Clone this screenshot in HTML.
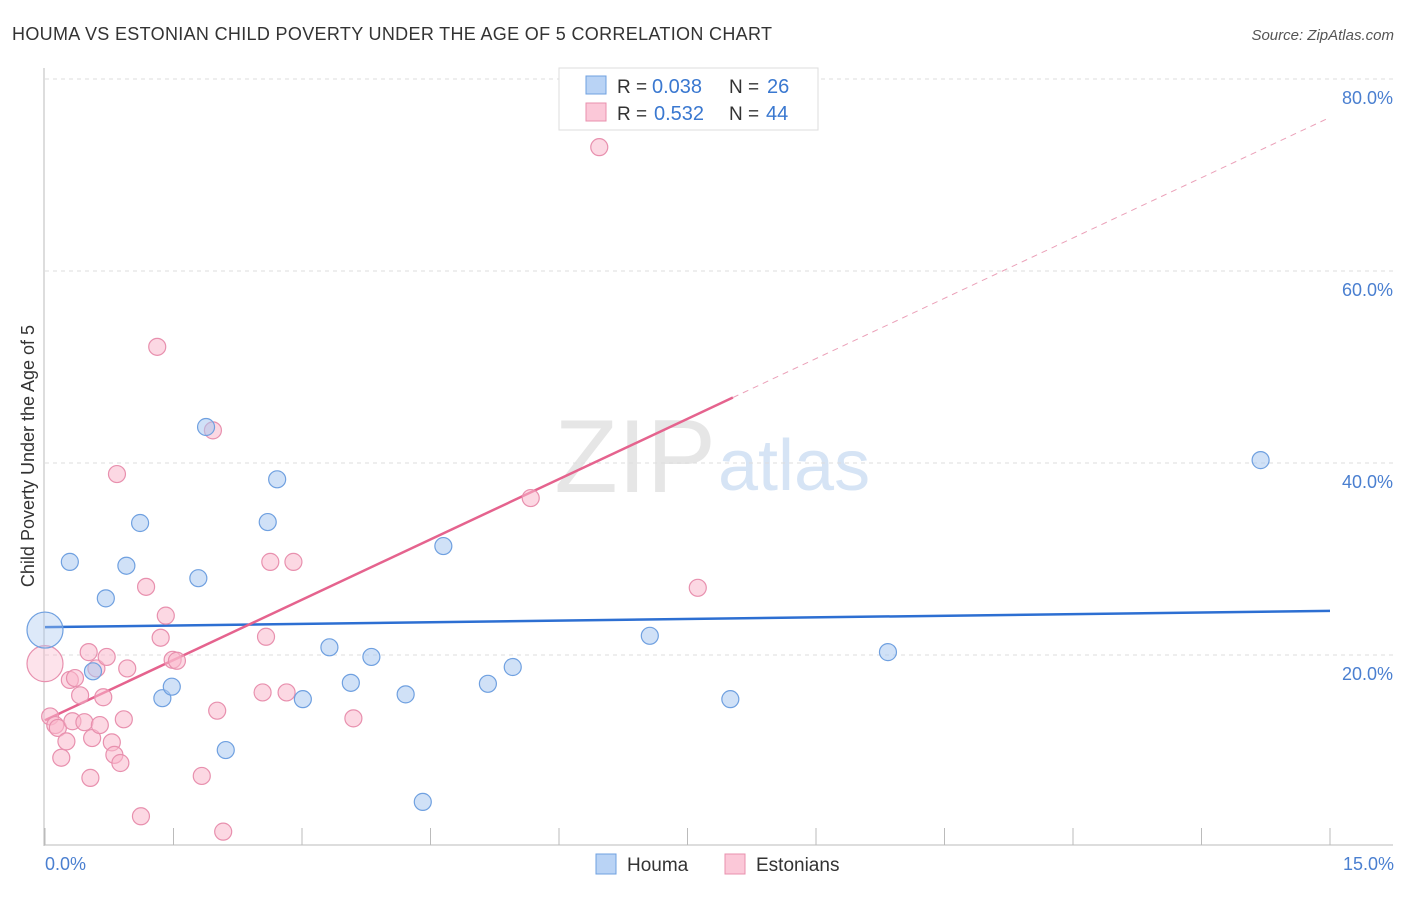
<!DOCTYPE html>
<html><head><meta charset="utf-8"><style>
body{margin:0;background:#fff;font-family:"Liberation Sans",sans-serif}
svg text{font-family:"Liberation Sans",sans-serif}
</style></head><body>
<svg id="chart" width="1406" height="892" xmlns="http://www.w3.org/2000/svg">
<text x="12" y="40" font-size="18" fill="#333" textLength="760">HOUMA VS ESTONIAN CHILD POVERTY UNDER THE AGE OF 5 CORRELATION CHART</text>
<text x="1394" y="40" font-size="15" fill="#555" font-style="italic" text-anchor="end">Source: ZipAtlas.com</text>
<text x="716" y="492" font-size="104" fill="#e6e6e6" text-anchor="end" font-family="Liberation Serif">ZIP</text>
<text x="718" y="490" font-size="72" fill="#d6e4f5">atlas</text>
<g id="grid"></g>
<g id="axes"></g>
<g id="trends"></g>
<g id="points"></g>
<text transform="translate(34,456) rotate(-90)" font-size="18" fill="#333" text-anchor="middle">Child Poverty Under the Age of 5</text>
<text x="45" y="870" font-size="18" fill="#4a7fd0">0.0%</text>
<text x="1394" y="870" font-size="18" fill="#4a7fd0" text-anchor="end">15.0%</text>
<g>
<rect x="559" y="68" width="259" height="62" fill="#fff" stroke="#ddd"/>
<rect x="586" y="76" width="20" height="18" fill="#b9d3f5" stroke="#6fa0e0"/>
<text x="617" y="93" font-size="19" fill="#333">R = </text><text x="652" y="93" font-size="20" fill="#3a78d0">0.038</text>
<text x="729" y="93" font-size="19" fill="#333">N = </text><text x="767" y="93" font-size="20" fill="#3a78d0">26</text>
<rect x="586" y="103" width="20" height="18" fill="#fbc8d8" stroke="#e890ae"/>
<text x="617" y="120" font-size="19" fill="#333">R = </text><text x="654" y="120" font-size="20" fill="#3a78d0">0.532</text>
<text x="729" y="120" font-size="19" fill="#333">N = </text><text x="766" y="120" font-size="20" fill="#3a78d0">44</text>
</g>
<g>
<rect x="596" y="854" width="20" height="20" fill="#b9d3f5" stroke="#6fa0e0"/>
<text x="627" y="871" font-size="19" fill="#333">Houma</text>
<rect x="725" y="854" width="20" height="20" fill="#fbc8d8" stroke="#e890ae"/>
<text x="756" y="871" font-size="19" fill="#333">Estonians</text>
</g>
</svg>
<script>
const yTicks=[20,40,60,80];
const yTickLabels=["20.0%","40.0%","60.0%","80.0%"];
const xTicks=[0,1.5,3,4.5,6,7.5,9,10.5,12,13.5,15];
const houmaX=[0,0.29,0.71,0.95,1.11,0.56,1.37,1.48,1.79,1.88,2.11,2.60,2.71,3.01,3.32,3.57,3.81,4.21,4.41,4.65,5.17,5.46,7.06,8.00,9.84,14.19];
const houmaY=[22.6,29.7,25.9,29.3,33.75,18.3,15.5,16.7,28.0,43.75,10.1,33.85,38.3,15.4,20.8,17.1,19.8,15.9,4.7,31.35,17.0,18.75,22.0,15.4,20.3,40.3];
const estX=[0,0.06,0.12,0.15,0.19,0.25,0.29,0.35,0.32,0.41,0.46,0.51,0.53,0.55,0.60,0.64,0.68,0.72,0.78,0.81,0.84,0.88,0.92,0.96,1.12,1.18,1.31,1.35,1.41,1.49,1.54,1.83,1.96,2.01,2.08,2.54,2.58,2.63,2.82,2.90,3.60,5.67,6.47,7.62];
const estY=[19.1,13.6,12.7,12.4,9.3,11.0,17.4,17.6,13.1,15.8,13.0,20.3,7.2,11.35,18.6,12.7,15.6,19.8,10.9,9.6,38.85,8.75,13.3,18.6,3.2,27.1,52.1,21.8,24.1,19.5,19.4,7.4,43.4,14.2,1.6,16.1,21.9,29.7,16.1,29.7,13.4,36.35,72.9,27.0];
const houmaTrend=[22.9,24.6];
const estTrend=[13.2,76.0];
const estSolidEnd=[8.03];
const NS="http://www.w3.org/2000/svg";
const X=v=>45+v/15*1285, Y=v=>847-v/20*192;
function mk(t,a,p){const e=document.createElementNS(NS,t);for(const k in a)e.setAttribute(k,a[k]);p.appendChild(e);return e;}
const grid=document.getElementById('grid'),axes=document.getElementById('axes'),tr=document.getElementById('trends'),pts=document.getElementById('points');
yTicks.forEach((t,i)=>{
 const l=mk('line',{x1:45,x2:1393,y1:Y(t),y2:Y(t),stroke:'#ddd','stroke-dasharray':'4,4'},grid);
 
 
 const tx=mk('text',{x:1393,y:Y(t)+25,'font-size':18,fill:'#4a7fd0','text-anchor':'end'},axes);
 tx.textContent=yTickLabels[i];
 
 
});
mk('line',{x1:44,x2:44,y1:68,y2:846,stroke:'#bbb'},axes);
mk('line',{x1:44,x2:1393,y1:845,y2:845,stroke:'#bbb'},axes);
xTicks.forEach(t=>{
 const l=mk('line',{x1:X(t),x2:X(t),y1:828,y2:845,stroke:'#bbb'},axes);
 
 
});
let l=mk('line',{x1:X(0),y1:Y(houmaTrend[0]),x2:X(15),y2:Y(houmaTrend[1]),stroke:'#2d6fd2','stroke-width':2.5},tr);


const ey=x=>estTrend[0]+(estTrend[1]-estTrend[0])*x/15;
l=mk('line',{x1:X(0),y1:Y(ey(0)),x2:X(estSolidEnd[0]),y2:Y(ey(estSolidEnd[0])),stroke:'#e5638e','stroke-width':2.5},tr);


l=mk('line',{x1:X(estSolidEnd[0]),y1:Y(ey(estSolidEnd[0])),x2:X(15),y2:Y(ey(15)),stroke:'#eba0b8','stroke-width':1,'stroke-dasharray':'6,5'},tr);


function dots(xs,ys,fill,stroke,name){xs.forEach((x,i)=>{
 const big=x===0;
 const c=mk('circle',{cx:X(x),cy:Y(ys[i]),r:(big?18:8.5),fill:fill,'fill-opacity':(big?0.4:0.55),stroke:stroke,'stroke-width':1.2},pts);
 
 
});}
dots(estX,estY,'#f9b8cc','#e890ae','estonians-point');
dots(houmaX,houmaY,'#a9c8f0','#6fa0e0','houma-point');
</script>
</body></html>
